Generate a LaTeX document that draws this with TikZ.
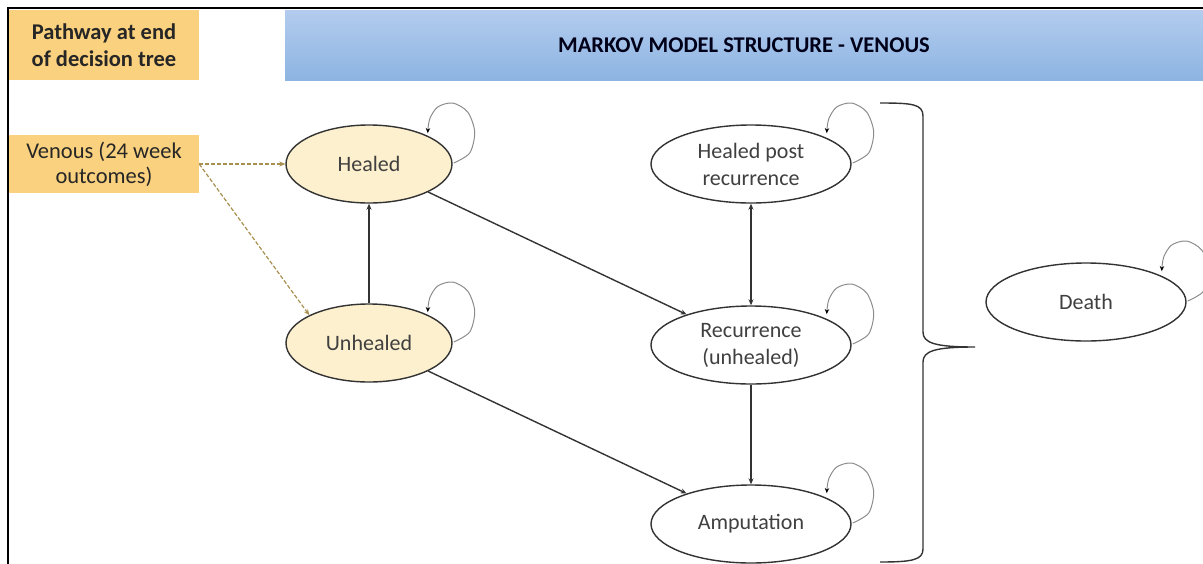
\documentclass[tikz,border=0pt]{standalone}
\usepackage{fontspec}
\setmainfont{Carlito}
\usetikzlibrary{shapes.geometric,arrows.meta}
\definecolor{orbox}{HTML}{FAD17E}
\definecolor{cream}{HTML}{FDF0CE}
\definecolor{txt}{HTML}{404040}
\definecolor{edgec}{HTML}{333333}
\definecolor{dashc}{HTML}{A89050}
\definecolor{bluetop}{HTML}{B3CCEE}
\definecolor{bluebot}{HTML}{8DB4E2}
\definecolor{loopc}{HTML}{8C8C8C}
\begin{document}
\begin{tikzpicture}[x=1pt,y=-1pt,
  state/.style={ellipse, draw=edgec, line width=1.4pt, inner sep=0pt,
    minimum height=78pt, text=txt, align=center,
    font=\fontsize{22}{27}\selectfont},
  warm/.style={state, fill=cream, minimum width=166pt},
  cold/.style={state, fill=white, minimum width=200pt},
  obox/.style={rectangle, fill=orbox, inner sep=0pt, minimum width=190pt,
    align=center, text=black!85},
  arr/.style={draw=edgec, line width=1.4pt, -{Stealth[length=6pt,width=5pt]}},
  darr/.style={draw=edgec, line width=1.4pt, {Stealth[length=6pt,width=5pt]}-{Stealth[length=6pt,width=5pt]}},
  dashar/.style={draw=dashc, line width=1.2pt, dash pattern=on 4pt off 2pt,
    -{Stealth[length=6pt,width=5pt]}},
  loopst/.style={draw=loopc, line width=1pt, -{Stealth[length=5pt,width=4.5pt,color=black]}},
]
\useasboundingbox (0,0) rectangle (1203,563);
% frame
\draw[line width=2pt] (8,564) -- (8,8) -- (1204,8);
% header boxes
\node[obox, minimum height=70pt, font=\fontsize{22.5}{27}\selectfont\bfseries]
  (pw) at (104,45) {Pathway at end\\of decision tree};
\node[rectangle, top color=bluetop, bottom color=bluebot, inner sep=0pt,
  minimum width=918pt, minimum height=70pt, text=black!90!blue,
  font=\fontsize{22.5}{27}\selectfont\bfseries] (hdr) at (744,45)
  {MARKOV MODEL STRUCTURE - VENOUS};
\node[obox, minimum height=58pt, font=\fontsize{22.5}{25}\selectfont]
  (ven) at (104,164) {Venous (24 week\\outcomes)};
% states
\node[warm] (he)  at (369,164) {Healed};
\node[warm] (un)  at (369,343) {Unhealed};
\node[cold] (hpr) at (751,164) {Healed post\\recurrence};
\node[cold] (rec) at (751,345) {Recurrence\\(unhealed)};
\node[cold] (amp) at (751,524) {Amputation};
\node[cold] (dth) at (1086,302) {Death};
% transitions
\draw[arr] (un) -- (he);
\draw[arr] (he) -- (rec);
\draw[arr] (un) -- (amp);
\draw[darr] (hpr) -- (rec);
\draw[arr] (rec) -- (amp);
\draw[dashar] (ven.east) -- (he.west);
\draw[dashar] (ven.east) -- (un.155);
% self loops
\foreach \n in {he,un,hpr,rec,amp,dth}{
  \draw[loopst, shift={(\n.east)}] plot[smooth] coordinates
    {(1,-1) (17,-11) (22,-32) (15,-52) (0,-61) (-15,-57) (-23,-45) (-25,-31)};
}
% brace
\coordinate (btip) at (975,347);
\draw[draw=edgec, line width=1.4pt]
  (880,103) .. controls (912,103) and (923,104) .. (923,116)
  -- (923,332) .. controls (923,343) and (935,347) .. (btip)
  .. controls (935,347) and (923,351) .. (923,362)
  -- (923,549) .. controls (923,560) and (912,562) .. (880,562);
\end{tikzpicture}
\end{document}
